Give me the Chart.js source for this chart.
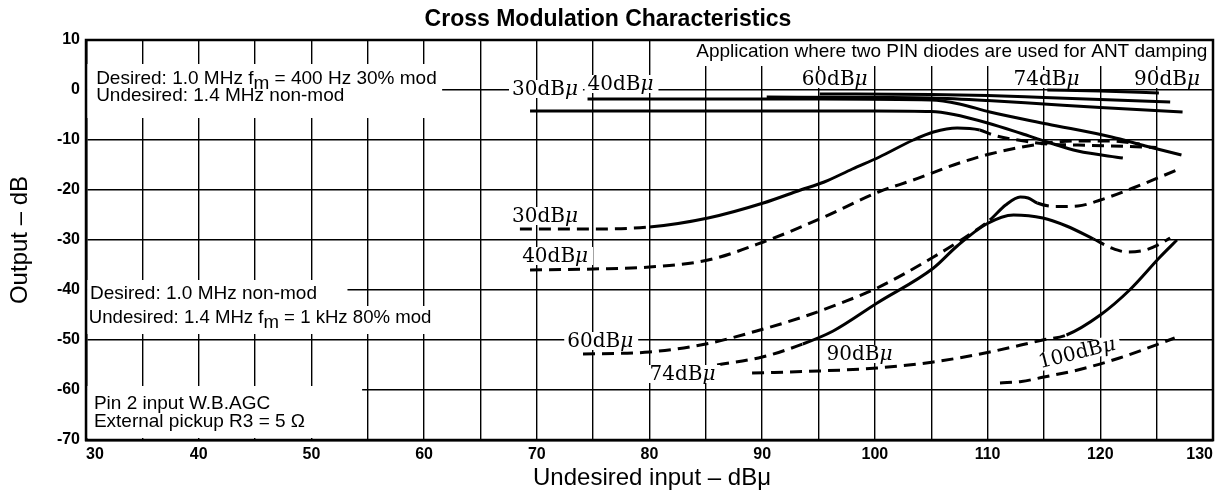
<!DOCTYPE html>
<html>
<head>
<meta charset="utf-8">
<script src="https://cdn.jsdelivr.net/npm/chart.js@4/dist/chart.umd.min.js"></script>
<style>
  html, body { margin: 0; padding: 0; background: #fff; }
  #caixa { width: 1220px; height: 493px; }
</style>
</head>
<body>
<div id="caixa"><canvas id="grafico"></canvas></div>
<script>
// eixos
const ticksX = [30, 40, 50, 60, 70, 80, 90, 100, 110, 120, 130];
const ticksY = [10, 0, -10, -20, -30, -40, -50, -60, -70];

// Desired 1.0 MHz fm = 400 Hz 30% mod (curvas de cima)
const sup30 = [[69.4,-4.2],[80,-4.2],[90,-4.2],[100,-4.2],[105,-4.3],[107,-4.9],[110,-6.6],[113,-8.7],[115.3,-10.4],[118,-12.2],[122,-13.6]];
const sup40 = [[74.5,-1.8],[85,-1.8],[95,-1.8],[105,-2],[107.5,-2.8],[110.2,-4.4],[115.3,-6.8],[121,-9.4],[124,-11.2],[127.2,-13]];
const sup60 = [[90.4,-1.4],[100,-1.5],[105,-1.6],[110,-2.1],[115,-2.8],[120,-3.5],[127.3,-4.4]];
const sup74 = [[95.1,-0.8],[105,-0.9],[110,-1.1],[115,-1.5],[120,-1.9],[126.2,-2.4]];
const sup90 = [[115.3,0],[120,-0.2],[125.2,-0.6]];

// curvas do meio
const meio30 = [[68.5,-27.8],[74,-27.8],[80,-27.4],[85.2,-25.6],[90.1,-22.6],[93.4,-20],[95.5,-18.4],[98,-15.8],[100.4,-13.4],[103.4,-10],[105.2,-8.4],[107.3,-7.6],[109.3,-8],[110.5,-9],[113.8,-10.4],[115.3,-10.8],[118,-11],[121,-11.2],[125,-11.5]];
const meio40 = [[69.4,-36],[75,-35.8],[80,-35.4],[85.2,-34],[90.1,-30.4],[95.3,-25.6],[100.3,-20.4],[103.4,-18],[107.5,-14.6],[110.2,-12.8],[115.3,-10.6],[118,-10.2],[121,-10.2],[123.5,-10.8]];

// Desired 1.0 MHz non-mod (curvas de baixo)
const inf60 = [[74.1,-52.8],[80,-52.4],[85,-50.8],[89.5,-48.2],[93.6,-45.4],[97,-42.6],[100.2,-39.6],[105.2,-33.4],[108,-29.5],[110.2,-26],[111.6,-23],[112.9,-21.4],[113.6,-21.6],[114.4,-22.6],[116,-23.3],[118,-23.2],[120,-22],[122.9,-19.6],[126.8,-16]];
const inf74 = [[86,-55],[90,-53.4],[93.6,-50.8],[96.3,-48.2],[100.2,-42.6],[105.2,-35.6],[107.3,-31.2],[109.9,-26.8],[112.3,-25],[114.9,-25.6],[117,-27.2],[119.4,-29.8],[121,-31.6],[122.4,-32.4],[124,-32],[125.3,-30.8],[126.2,-29.6]];
const inf90 = [[89.1,-56.6],[95,-56.2],[100.2,-55.6],[105.2,-54.4],[110.2,-52.4],[114.9,-50],[117,-49],[120,-45],[122.6,-40],[125.3,-33.4],[126.8,-30]];
const inf100 = [[111.1,-58.6],[113,-58.3],[115,-57.4],[118,-56],[121.7,-53.6],[126.6,-49.6]];

const fonteSans = "'Liberation Sans', Arial, sans-serif";
const fonteSerif = "'DejaVu Serif', serif";
const tracejado = [12, 7];

// trecho continuo de cada curva (fora dele a linha e tracejada)
const curvas = [
  { pontos: sup30, continuo: [0, 200] },
  { pontos: sup40, continuo: [0, 200] },
  { pontos: sup60, continuo: [0, 200] },
  { pontos: sup74, continuo: [0, 200] },
  { pontos: sup90, continuo: [0, 200] },
  { pontos: meio30, continuo: [80, 109.3] },
  { pontos: meio40, continuo: null },
  { pontos: inf60, continuo: [110.2, 114.4] },
  { pontos: inf74, continuo: [93.6, 119.4] },
  { pontos: inf90, continuo: [117, 130] },
  { pontos: inf100, continuo: null },
];

// rotulos das curvas (x esquerdo, y da linha de base)
const rotulos = [
  { num: "30", x: 67.8, y: -1 },
  { num: "40", x: 74.5, y: 0 },
  { num: "60", x: 93.5, y: 1 },
  { num: "74", x: 112.3, y: 1 },
  { num: "90", x: 123, y: 1 },
  { num: "30", x: 67.8, y: -26.4 },
  { num: "40", x: 68.7, y: -34.4 },
  { num: "60", x: 72.7, y: -51.4 },
  { num: "74", x: 80, y: -58 },
  { num: "90", x: 95.7, y: -54 },
];
const rotuloInclinado = { num: "100", x: 117.9, y: -52.4, angulo: -14 };

// blocos de texto
const notas = [
  { x: 30.9, y: 1.2, tam: 19, partes: [["Desired: 1.0 MHz f", 0], ["m", 5], [" = 400 Hz 30% mod", 0]] },
  { x: 30.9, y: -2.2, tam: 19, partes: [["Undesired: 1.4 MHz non-mod", 0]] },
  { x: 30.35, y: -41.8, tam: 19, partes: [["Desired: 1.0 MHz non-mod", 0]] },
  { x: 30.25, y: -46.6, tam: 18.6, partes: [["Undesired: 1.4 MHz f", 0], ["m", 5], [" = 1 kHz 80% mod", 0]] },
  { x: 30.7, y: -63.8, tam: 19, partes: [["Pin 2 input W.B.AGC", 0]] },
  { x: 30.7, y: -67.4, tam: 19, partes: [["External pickup R3 = 5 \u03A9", 0]] },
];
const notaDireita = { x: 129.5, y: 6.6, tam: 19, texto: "Application where two PIN diodes are used for ANT damping" };

// areas sem grade atras dos textos [x1, y1, x2, y2]
const areasBrancas = [
  [30.1, 5.2, 61.6, -5.6],
  [83.6, 9.8, 129.8, 4.8],
  [30.1, -38, 53.2, -43.2],
  [30.1, -43.2, 61.5, -48.8],
  [30.1, -59.2, 54.5, -69.6],
];

function desenharPartes(ctx, x, y, partes, tam) {
  ctx.font = `${tam}px ${fonteSans}`;
  let px = x;
  partes.forEach(([t, dy]) => {
    ctx.fillText(t, px, y + dy);
    px += ctx.measureText(t).width;
  });
}

function desenharRotulo(ctx, num, px, py) {
  ctx.font = `20px ${fonteSerif}`;
  const w1 = ctx.measureText(num + "dB").width;
  ctx.font = `italic 20px ${fonteSerif}`;
  const w2 = ctx.measureText("\u03BC").width;
  ctx.fillStyle = "#fff";
  ctx.fillRect(px - 3, py - 15, w1 + w2 + 8, 18);
  ctx.fillStyle = "#000";
  ctx.font = `20px ${fonteSerif}`;
  ctx.fillText(num + "dB", px, py);
  ctx.font = `italic 20px ${fonteSerif}`;
  ctx.fillText("\u03BC", px + w1, py);
  return w1 + w2;
}

const pluginTextos = {
  id: "textos",
  beforeDatasetsDraw(chart) {
    const ctx = chart.ctx;
    const sx = chart.scales.x;
    const sy = chart.scales.y;
    ctx.save();
    ctx.fillStyle = "#fff";
    areasBrancas.forEach(([x1, y1, x2, y2]) => {
      const a = sx.getPixelForValue(x1);
      const b = sy.getPixelForValue(y1);
      ctx.fillRect(a, b, sx.getPixelForValue(x2) - a, sy.getPixelForValue(y2) - b);
    });
    ctx.fillStyle = "#000";
    ctx.textBaseline = "alphabetic";
    ctx.textAlign = "left";
    notas.forEach((n) => {
      desenharPartes(ctx, sx.getPixelForValue(n.x), sy.getPixelForValue(n.y), n.partes, n.tam);
    });
    ctx.textAlign = "right";
    ctx.font = `${notaDireita.tam}px ${fonteSans}`;
    ctx.fillText(notaDireita.texto, sx.getPixelForValue(notaDireita.x), sy.getPixelForValue(notaDireita.y));
    ctx.restore();
  },
  afterDatasetsDraw(chart) {
    const ctx = chart.ctx;
    const sx = chart.scales.x;
    const sy = chart.scales.y;
    const area = chart.chartArea;
    ctx.save();
    ctx.textBaseline = "alphabetic";
    ctx.textAlign = "left";
    rotulos.forEach((r) => {
      desenharRotulo(ctx, r.num, sx.getPixelForValue(r.x), sy.getPixelForValue(r.y));
    });
    // rotulo inclinado do 100dBμ
    ctx.save();
    ctx.translate(sx.getPixelForValue(rotuloInclinado.x), sy.getPixelForValue(rotuloInclinado.y));
    ctx.rotate((rotuloInclinado.angulo * Math.PI) / 180);
    ctx.font = `20px ${fonteSerif}`;
    const w = ctx.measureText(rotuloInclinado.num + "dB\u03BC").width;
    desenharRotulo(ctx, rotuloInclinado.num, -w / 2, 7);
    ctx.restore();

    ctx.strokeStyle = "#000";
    ctx.lineWidth = 2.5;
    ctx.strokeRect(area.left, area.top, area.right - area.left, area.bottom - area.top);
    ctx.restore();
  },
  afterDraw(chart) {
    const ctx = chart.ctx;
    const area = chart.chartArea;
    ctx.save();
    ctx.fillStyle = "#000";
    ctx.textAlign = "center";
    ctx.textBaseline = "alphabetic";
    ctx.font = `bold 23px ${fonteSans}`;
    ctx.fillText("Cross Modulation Characteristics", 608, 26);
    ctx.font = `24px ${fonteSans}`;
    ctx.fillText("Undesired input \u2013 dB\u03BC", 652, 485);
    ctx.translate(27, (area.top + area.bottom) / 2);
    ctx.rotate(-Math.PI / 2);
    ctx.fillText("Output \u2013 dB", 0, 0);
    ctx.restore();
  },
};

const datasets = curvas.map((c) => ({
  data: c.pontos.map(([x, y]) => ({ x, y })),
  showLine: true,
  borderColor: "#000",
  borderWidth: 3,
  pointRadius: 0,
  fill: false,
  cubicInterpolationMode: "monotone",
  borderDash: c.continuo ? [] : tracejado,
  segment: {
    borderDash: (s) => {
      if (!c.continuo) return tracejado;
      const xa = c.pontos[s.p0DataIndex][0];
      const xb = c.pontos[s.p1DataIndex][0];
      return xa >= c.continuo[0] && xb <= c.continuo[1] ? [] : tracejado;
    },
  },
}));

const ctx = document.getElementById("grafico").getContext("2d");
new Chart(ctx, {
  type: "scatter",
  data: { datasets },
  options: {
    responsive: true,
    maintainAspectRatio: false,
    animation: false,
    layout: { padding: { top: 40, right: 7, bottom: 0, left: 0 } },
    plugins: { legend: { display: false }, tooltip: { enabled: false }, title: { display: false } },
    scales: {
      x: {
        type: "linear",
        min: ticksX[0],
        max: ticksX[ticksX.length - 1],
        ticks: {
          stepSize: 5,
          autoSkip: false,
          maxRotation: 0,
          align: "inner",
          padding: 5,
          color: "#000",
          font: { family: fonteSans, size: 16, weight: "bold" },
          callback: (v) => (ticksX.includes(v) ? v : ""),
        },
        grid: { color: "#000", lineWidth: 1.4, drawTicks: false },
        border: { display: true, color: "#000", width: 2.5 },
        afterFit: (s) => {
          s.height = 53;
          s.paddingLeft = 0;
          s.paddingRight = 0;
        },
      },
      y: {
        type: "linear",
        min: ticksY[ticksY.length - 1],
        max: ticksY[0],
        ticks: {
          stepSize: 10,
          padding: 6,
          color: "#000",
          font: { family: fonteSans, size: 16, weight: "bold" },
          callback: (v) => (ticksY.includes(v) ? v : ""),
        },
        grid: { color: "#000", lineWidth: 1.4, drawTicks: false },
        border: { display: true, color: "#000", width: 2.5 },
        afterFit: (s) => {
          s.width = 86;
          s.paddingTop = 0;
          s.paddingBottom = 0;
        },
      },
    },
  },
  plugins: [pluginTextos],
});
</script>
</body>
</html>
